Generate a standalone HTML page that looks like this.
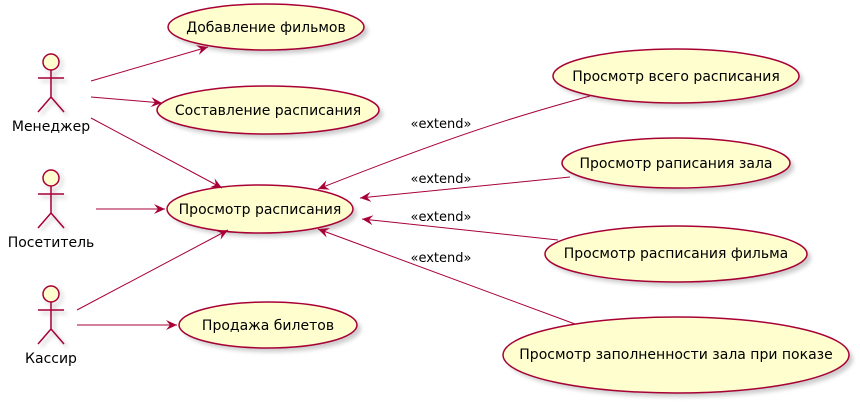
<!DOCTYPE html>
<html><head><meta charset="utf-8"><style>
html,body{margin:0;padding:0;background:#fff;}
svg{display:block;}
text{font-family:"DejaVu Sans","Liberation Sans",sans-serif;fill:#000;}
</style></head><body>
<svg width="860" height="402" viewBox="0 0 860 402" xmlns="http://www.w3.org/2000/svg">
<defs>
<filter id="sh" x="-20%" y="-20%" width="150%" height="160%"><feGaussianBlur stdDeviation="2"/></filter>
<marker id="ar" viewBox="0 0 12 10" refX="11" refY="5" markerWidth="12" markerHeight="10" markerUnits="userSpaceOnUse" orient="auto">
<path d="M0,0 L11,5 L0,10 L4,5 Z" fill="#A80036"/>
</marker>
</defs>
<g fill="#000" opacity="0.2" filter="url(#sh)">
<ellipse cx="270" cy="31" rx="98" ry="23"/>
<ellipse cx="272" cy="114" rx="111" ry="24"/>
<ellipse cx="264" cy="213" rx="93" ry="24"/>
<ellipse cx="272" cy="329" rx="89" ry="23"/>
<ellipse cx="680" cy="80" rx="123" ry="27"/>
<ellipse cx="680" cy="167" rx="114" ry="25"/>
<ellipse cx="680" cy="258" rx="131" ry="28"/>
<ellipse cx="680" cy="359" rx="173" ry="38"/>
</g>
<g fill="#FEFECE" stroke="#A80036" stroke-width="1.5">
<ellipse cx="266" cy="27" rx="98" ry="23"/>
<ellipse cx="268" cy="110" rx="111" ry="24"/>
<ellipse cx="260" cy="209" rx="93" ry="24"/>
<ellipse cx="268" cy="325" rx="89" ry="23"/>
<ellipse cx="676" cy="76" rx="123" ry="27"/>
<ellipse cx="676" cy="163" rx="114" ry="25"/>
<ellipse cx="676" cy="254" rx="131" ry="28"/>
<ellipse cx="676" cy="355" rx="173" ry="38"/>
</g>
<g font-size="14" text-anchor="middle">
<text x="266" y="32">Добавление фильмов</text>
<text x="268" y="115">Составление расписания</text>
<text x="260" y="214">Просмотр расписания</text>
<text x="268" y="330">Продажа билетов</text>
<text x="676" y="81">Просмотр всего расписания</text>
<text x="676" y="168">Просмотр раписания зала</text>
<text x="676" y="258">Просмотр расписания фильма</text>
<text x="676" y="359">Просмотр заполненности зала при показе</text>
</g>
<g id="actors">
<g opacity="0.2" stroke="#000" stroke-width="2" fill="none" filter="url(#sh)">
<circle cx="54" cy="65" r="8"/><path d="M54,73 V100 M41,81 H67 M54,100 L41,115 M54,100 L67,115"/>
<circle cx="54" cy="181" r="8"/><path d="M54,189 V216 M41,197 H67 M54,216 L41,231 M54,216 L67,231"/>
<circle cx="54" cy="297" r="8"/><path d="M54,305 V332 M41,313 H67 M54,332 L41,347 M54,332 L67,347"/>
</g>
<g stroke="#A80036" stroke-width="1.5" fill="#FEFECE">
<circle cx="51" cy="62" r="8"/><path d="M51,70 V97 M38,78 H64 M51,97 L38,112 M51,97 L64,112" fill="none"/>
<circle cx="51" cy="178" r="8"/><path d="M51,186 V213 M38,194 H64 M51,213 L38,228 M51,213 L64,228" fill="none"/>
<circle cx="51" cy="294" r="8"/><path d="M51,302 V329 M38,310 H64 M51,329 L38,344 M51,329 L64,344" fill="none"/>
</g>
<g font-size="14" text-anchor="middle">
<text x="51" y="131">Менеджер</text>
<text x="51" y="247">Посетитель</text>
<text x="51" y="363">Кассир</text>
</g>
</g>
<g stroke="#A80036" stroke-width="1" fill="none" marker-end="url(#ar)">
<line x1="91" y1="81" x2="208" y2="47"/>
<line x1="91" y1="97" x2="162" y2="103"/>
<line x1="91" y1="118" x2="222" y2="188"/>
<line x1="96" y1="209" x2="165" y2="209"/>
<line x1="77" y1="310" x2="228" y2="230"/>
<line x1="77" y1="325" x2="177" y2="325"/>
<path d="M590,96 C540,110 480,125 318,189"/>
<line x1="570" y1="177" x2="360" y2="198"/>
<line x1="558" y1="240" x2="362" y2="219"/>
<line x1="575" y1="324" x2="318" y2="229"/>
</g>
<g font-size="13" text-anchor="middle">
<text x="441" y="128">«extend»</text>
<text x="441" y="183">«extend»</text>
<text x="441" y="221">«extend»</text>
<text x="441" y="262">«extend»</text>
</g>
</svg>
</body></html>
